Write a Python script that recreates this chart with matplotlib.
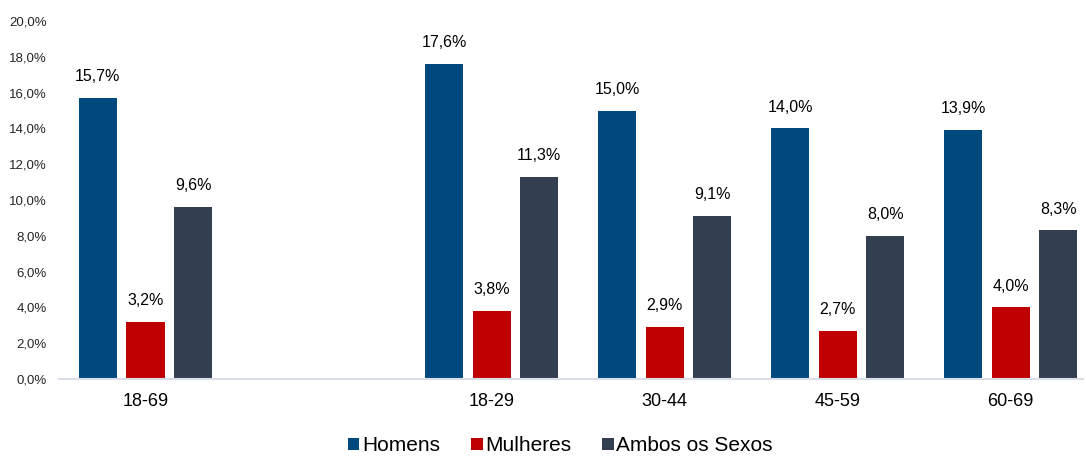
import matplotlib
matplotlib.use('Agg')
import matplotlib.pyplot as plt
from matplotlib.patches import Patch

plt.rcParams['font.family'] = ['Liberation Sans', 'DejaVu Sans']

categories = ['18-69', '18-29', '30-44', '45-59', '60-69']
cat_pos = [0, 2, 3, 4, 5]  # blank slot between total and age groups
homens = [15.7, 17.6, 15.0, 14.0, 13.9]
mulheres = [3.2, 3.8, 2.9, 2.7, 4.0]
ambos = [9.6, 11.3, 9.1, 8.0, 8.3]
series_names = ['Homens', 'Mulheres', 'Ambos os Sexos']
colors = ['#00497F', '#C00000', '#333F50']
yticks = [0, 2, 4, 6, 8, 10, 12, 14, 16, 18, 20]

def fmt(v):
    return ('%.1f%%' % v).replace('.', ',')

fig = plt.figure(figsize=(10.86, 4.58), dpi=100)
ax = fig.add_axes([0.0543, 0.1725, 0.9427, 0.7815])

width = 0.22
offset = 0.275
for i, (vals, c) in enumerate(zip([homens, mulheres, ambos], colors)):
    xs = [p + (i - 1) * offset for p in cat_pos]
    ax.bar(xs, vals, width=width, color=c)
    for x, v in zip(xs, vals):
        ax.annotate(fmt(v), (x, v), xytext=(0, 10), textcoords='offset points',
                    ha='center', va='bottom', fontsize=11.5, color='#000000')

ax.set_xlim(-0.5, 5.416)
ax.set_ylim(0, 20)
ax.set_yticks(yticks)
ax.set_yticklabels([fmt(t) for t in yticks], fontsize=9.5, color='#262626')
ax.set_xticks(cat_pos)
ax.set_xticklabels(categories, fontsize=13, color='#000000')
ax.tick_params(axis='y', length=0, pad=9)
ax.tick_params(axis='x', length=0, pad=10)

for s in ['top', 'right', 'left']:
    ax.spines[s].set_visible(False)
ax.spines['bottom'].set_color('#D9DEE8')
ax.spines['bottom'].set_linewidth(1.5)

handles = [Patch(facecolor=c, label=n) for c, n in zip(colors, series_names)]
fig.legend(handles=handles, loc='lower center', bbox_to_anchor=(0.516, -0.035), ncol=3,
           frameon=False, fontsize=15, handlelength=0.55, handleheight=0.55,
           handletextpad=0.12, columnspacing=1.5)

fig.savefig('out.png', dpi=100)
